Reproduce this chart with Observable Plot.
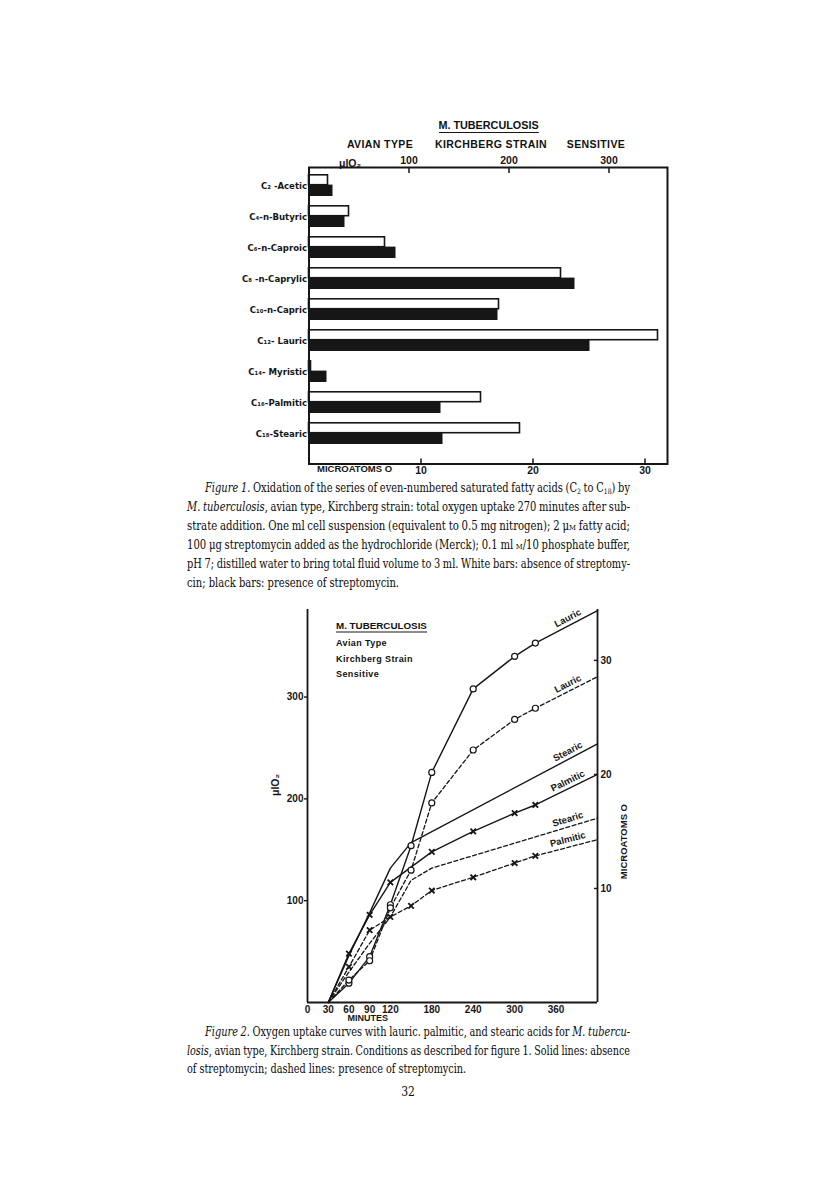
<!DOCTYPE html>
<html><head><meta charset="utf-8">
<script src="https://cdn.jsdelivr.net/npm/d3@7"></script>
<script src="https://cdn.jsdelivr.net/npm/@observablehq/plot@0.6"></script>
<style>
body{margin:0;background:#fff;}
#page{position:relative;width:816px;height:1198px;background:#fff;overflow:hidden;}
#page svg{position:absolute;left:0;}
.lab{position:absolute;font-family:"Liberation Sans",Arial,sans-serif;font-weight:bold;color:#111;white-space:nowrap;transform:translate(-50%,-50%);}
.labl{position:absolute;font-family:"Liberation Sans",Arial,sans-serif;font-weight:bold;color:#111;white-space:nowrap;transform:translate(0,-50%);}
.cap{position:absolute;font-family:"DejaVu Serif Condensed","DejaVu Serif",serif;font-stretch:condensed;font-size:12px;line-height:14px;white-space:nowrap;color:#0c0c0c;transform-origin:0 50%;}
.cap sub{font-size:7.5px;vertical-align:-2px;line-height:0;}
.sc{font-variant:small-caps;}
</style></head>
<body><div id="page"></div>
<script>
// ---------- Figure 1 data (µl O2 after 270 min) ----------
const acids = ["C₂ -Acetic", "C₄-n-Butyric", "C₆-n-Caproic", "C₈ -n-Caprylic", "C₁₀-n-Capric", "C₁₂- Lauric", "C₁₄- Myristic", "C₁₆-Palmitic", "C₁₈-Stearic"];
const uptakeNoStrep = [19, 40, 76, 252, 190, 349, 2, 172, 211];   // white bars
const uptakeStrep   = [24, 36, 87, 266, 189, 281, 18, 132, 134];  // black bars
const ulTicks1 = [100, 200, 300];
const microatomTicks1 = [10, 20, 30];
const UL_PER_MICROATOM = 11.2;

// ---------- Figure 2 data: [minutes, µl O2] ----------
const lauricNoStrep   = [[30,0],[60,19],[90,45],[120,96],[150,154],[180,226],[240,308],[300,340],[330,353],[420,385]];
const lauricStrep     = [[30,0],[60,22],[90,41],[120,93],[150,130],[180,196],[240,248],[300,278],[330,289],[420,320]];
const stearicNoStrep  = [[30,0],[60,46],[90,88],[120,132],[150,157],[420,254]];
const palmiticNoStrep = [[30,0],[60,48],[90,86],[120,118],[180,148],[240,168],[300,186],[330,194],[420,224]];
const stearicStrep    = [[30,0],[60,30],[90,58],[120,84],[150,120],[180,132],[420,181]];
const palmiticStrep   = [[30,0],[60,35],[90,71],[120,84],[150,95],[180,110],[240,123],[300,137],[330,144],[420,160]];
const minuteTicks = [0, 30, 60, 90, 120, 180, 240, 300, 360];
const ulTicks2 = [100, 200, 300];
const microatomTicks2 = [10, 20, 30];

const page = document.getElementById("page");
const INK = "#161616";
const SANS = "'Liberation Sans', Arial, sans-serif";
const NARROW = "'Liberation Sans Narrow', 'DejaVu Sans Condensed', 'Liberation Sans', Arial, sans-serif";

// ---------- Figure 1 ----------
const rows1 = acids.map((acid, i) => ({acid, without: uptakeNoStrep[i], with: uptakeStrep[i]}));
const fig1 = Plot.plot({
  width: 816, height: 380,
  marginTop: 67, marginBottom: 16.5, marginLeft: 308.5, marginRight: 149,
  style: {background: "transparent", fontFamily: SANS, fontSize: "10px", color: INK},
  x: {domain: [0, 358.5], axis: null},
  y: {domain: acids, range: [74, 344], paddingInner: 0.3, paddingOuter: 0, axis: null},
  marks: [
    Plot.barX(rows1, {y: "acid", x: "with", fill: INK, insetTop: 10.6}),
    Plot.barX(rows1, {y: "acid", x: "without", fill: "white", stroke: INK, strokeWidth: 1.6, insetTop: 0.8, insetBottom: 11.3}),
    Plot.frame({stroke: INK, strokeWidth: 2}),
    Plot.axisY({anchor: "left", label: null, tickSize: 0, tickPadding: 2, fontWeight: "bold", fontSize: 9.5, fontFamily: NARROW}),
    Plot.axisX({anchor: "top", label: null, ticks: ulTicks1, tickSize: 0, tickPadding: 4, fontWeight: "bold", fontSize: 10.5}),
    Plot.axisX({anchor: "top", label: null, ticks: ulTicks1, tickSize: -5, strokeWidth: 1.5, tickFormat: () => ""}),
    Plot.axisX({anchor: "bottom", label: null, ticks: microatomTicks1.map(m => m * UL_PER_MICROATOM), tickSize: 0, tickPadding: 3,
      tickFormat: v => Math.round(v / UL_PER_MICROATOM), fontWeight: "bold", fontSize: 10.5}),
    Plot.axisX({anchor: "bottom", label: null, ticks: microatomTicks1.map(m => m * UL_PER_MICROATOM), tickSize: -5, strokeWidth: 1.5, tickFormat: () => ""}),
    Plot.text(["MICROATOMS O"], {text: d => d, frameAnchor: "bottom-left", textAnchor: "start", dx: 8, dy: 8, fontWeight: "bold", fontSize: 9.5}),
    Plot.text(["μlO₂"], {text: d => d, frameAnchor: "top-left", dx: 30, dy: -8, fontWeight: "bold", fontSize: 10.5})
  ]
});
fig1.style.top = "100px";
page.appendChild(fig1);

// ---------- Figure 2 ----------
const curves = [
  {name: "Lauric",   dashed: false, marker: "circle", pts: lauricNoStrep},
  {name: "Lauric",   dashed: true,  marker: "circle", pts: lauricStrep},
  {name: "Stearic",  dashed: false, marker: null,     pts: stearicNoStrep},
  {name: "Palmitic", dashed: false, marker: "times",  pts: palmiticNoStrep},
  {name: "Stearic",  dashed: true,  marker: null,     pts: stearicStrep},
  {name: "Palmitic", dashed: true,  marker: "times",  pts: palmiticStrep}
];
const rows2 = curves.flatMap((c, k) => c.pts.map(([minute, ul]) => ({key: k, name: c.name, dashed: c.dashed, marker: c.marker, minute, ul})));
const W2 = 816, H2 = 436, MT2 = 19, MB2 = 24, ML2 = 307, MR2 = 219;
const xMax = 420, yMax = 386;
const kx = (W2 - ML2 - MR2) / xMax, ky = (H2 - MT2 - MB2) / yMax;
const labelMinute = 377;
const labels2 = curves.map(c => {
  const m = c.pts.map(p => p[0]), v = c.pts.map(p => p[1]);
  const n = m.length;
  const slope = (v[n - 1] - v[n - 2]) / (m[n - 1] - m[n - 2]) * ky / kx;
  return {name: c.name, minute: labelMinute, ul: d3.scaleLinear(m, v)(labelMinute), rotate: -Math.atan(slope) * 180 / Math.PI};
});
const isMarked = r => r.minute >= 60 && r.minute <= 330;

const fig2 = Plot.plot({
  width: W2, height: H2,
  marginTop: MT2, marginBottom: MB2, marginLeft: ML2, marginRight: MR2,
  style: {background: "transparent", fontFamily: SANS, fontSize: "10px", color: INK},
  x: {domain: [0, xMax], axis: null},
  y: {domain: [0, yMax], axis: null},
  marks: [
    Plot.ruleX([0, xMax], {stroke: INK, strokeWidth: 1.8}),
    Plot.ruleY([0], {stroke: INK, strokeWidth: 1.8}),
    Plot.axisY({anchor: "left", label: null, ticks: ulTicks2, tickSize: 3, tickPadding: 1, strokeWidth: 1.4, fontWeight: "bold", fontSize: 10}),
    Plot.axisY({anchor: "right", label: null, ticks: microatomTicks2.map(m => m * UL_PER_MICROATOM), tickSize: 0, tickPadding: 3,
      tickFormat: v => Math.round(v / UL_PER_MICROATOM), fontWeight: "bold", fontSize: 10}),
    Plot.axisY({anchor: "right", label: null, ticks: microatomTicks2.map(m => m * UL_PER_MICROATOM), tickSize: -4, strokeWidth: 1.4, tickFormat: () => ""}),
    Plot.axisX({anchor: "bottom", label: null, ticks: minuteTicks, tickSize: 0, tickPadding: 3, fontWeight: "bold", fontSize: 10}),
    Plot.line(rows2.filter(r => !r.dashed), {x: "minute", y: "ul", z: "key", stroke: INK, strokeWidth: 1.4}),
    Plot.line(rows2.filter(r => r.dashed), {x: "minute", y: "ul", z: "key", stroke: INK, strokeWidth: 1.3, strokeDasharray: "4,2.5"}),
    Plot.dot(rows2.filter(r => r.marker === "circle" && isMarked(r)), {x: "minute", y: "ul", r: 3, fill: "white", stroke: INK, strokeWidth: 1.2}),
    Plot.dot(rows2.filter(r => r.marker === "times" && isMarked(r)), {x: "minute", y: "ul", symbol: "times", r: 2.6, stroke: INK, strokeWidth: 1.8}),
    Plot.text(labels2, {x: "minute", y: "ul", text: "name", rotate: "rotate", dy: -8, fontWeight: "bold", fontSize: 9.5}),
    Plot.text(["MINUTES"], {text: d => d, frameAnchor: "bottom-left", dx: 40, dy: 18, fontWeight: "bold", fontSize: 9}),
    Plot.text(["MICROATOMS O"], {text: d => d, frameAnchor: "right", dx: 26, dy: -2, rotate: -90, fontWeight: "bold", fontSize: 9.5}),
    Plot.text(["μlO₂"], {text: d => d, frameAnchor: "left", dx: -32, dy: -10, rotate: -90, fontWeight: "bold", fontSize: 10.5})
  ]
});
fig2.style.top = "590px";
page.appendChild(fig2);

// ---------- HTML annotations ----------
function addLabel(cls, text, x, y, size, extra) {
  const d = document.createElement("div");
  d.className = cls; d.innerHTML = text;
  d.style.left = x + "px"; d.style.top = y + "px"; d.style.fontSize = size + "px";
  if (extra) Object.assign(d.style, extra);
  page.appendChild(d);
  return d;
}
addLabel("lab", "M. TUBERCULOSIS", 488.5, 126, 10.8, {borderBottom: "1.6px solid " + INK, paddingBottom: "1px", lineHeight: "12px"});
addLabel("lab", "AVIAN TYPE", 380, 144, 10.5, {letterSpacing: "0.4px"});
addLabel("lab", "KIRCHBERG STRAIN", 491, 144, 10.5, {letterSpacing: "0.4px"});
addLabel("lab", "SENSITIVE", 596, 144, 10.5, {letterSpacing: "0.4px"});

addLabel("labl", "M. TUBERCULOSIS", 336, 626, 9.8, {borderBottom: "1.5px solid " + INK, paddingBottom: "1px", lineHeight: "11px"});
addLabel("labl", "Avian Type", 336, 643, 9, {letterSpacing: "0.4px"});
addLabel("labl", "Kirchberg Strain", 336, 659, 9, {letterSpacing: "0.4px"});
addLabel("labl", "Sensitive", 336, 674, 9, {letterSpacing: "0.4px"});

// ---------- Captions (justified lines; last line uses the paragraph's average squeeze) ----------
function capPara(lines, y0, step) {
  const scales = [];
  const pending = [];
  lines.forEach(([html, x, just], i) => {
    const d = document.createElement("div");
    d.className = "cap"; d.innerHTML = html;
    d.style.left = x + "px"; d.style.top = (y0 + step * i - 7) + "px";
    page.appendChild(d);
    if (just) {
      const width = R - x;
      const nat = d.getBoundingClientRect().width;
      const spaces = (d.textContent.match(/ /g) || []).length;
      let ws = (width - nat) / Math.max(spaces, 1);
      if (ws < -0.5) ws = -0.5;
      d.style.wordSpacing = ws + "px";
      const now = d.getBoundingClientRect().width;
      const s = now > width + 0.5 ? width / now : 1;
      if (s < 1) d.style.transform = `scaleX(${s})`;
      scales.push(s);
    } else pending.push(d);
  });
  const avg = scales.length ? d3.mean(scales) : 1;
  pending.forEach(d => { if (avg < 1) d.style.transform = `scaleX(${avg})`; });
  return avg;
}
const L = 187, R = 630, IND = 205;
const cap1 = [
  ["<i>Figure 1.</i> Oxidation of the series of even-numbered saturated fatty acids (C<sub>2</sub> to C<sub>18</sub>) by", IND, true],
  ["<i>M. tuberculosis</i>, avian type, Kirchberg strain: total oxygen uptake 270 minutes after sub-", L, true],
  ["strate addition. One ml cell suspension (equivalent to 0.5 mg nitrogen); 2 μ<span class='sc'>m</span> fatty acid;", L, true],
  ["100 μg streptomycin added as the hydrochloride (Merck); 0.1 ml <span class='sc'>m</span>/10 phosphate buffer,", L, true],
  ["pH 7; distilled water to bring total fluid volume to 3 ml. White bars: absence of streptomy-", L, true],
  ["cin; black bars: presence of streptomycin.", L, false]
];
const s1 = capPara(cap1, 488, 19);
const cap2 = [
  ["<i>Figure 2.</i> Oxygen uptake curves with lauric. palmitic, and stearic acids for <i>M. tubercu-</i>", IND, true],
  ["<i>losis</i>, avian type, Kirchberg strain. Conditions as described for figure 1. Solid lines: absence", L, true],
  ["of streptomycin; dashed lines: presence of streptomycin.", L, false]
];
capPara(cap2, 1032, 18.5);
const pn = document.createElement("div");
pn.className = "cap"; pn.textContent = "32";
page.appendChild(pn);
pn.style.top = (1092 - 7) + "px";
pn.style.left = (408 - pn.getBoundingClientRect().width / 2) + "px";
</script>
</body></html>
